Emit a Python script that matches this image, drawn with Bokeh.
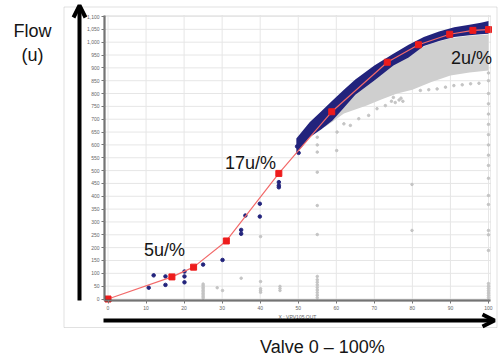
from bokeh.plotting import figure
from bokeh.models import (Label, Arrow, OpenHead, PolyAnnotation, NumeralTickFormatter,
                          FixedTicker, LinearAxis, Range1d)
from bokeh.embed import file_html
from bokeh.resources import INLINE

# ---------------- data ----------------
red_x = [0, 16.8, 22.5, 31.1, 44.9, 58.8, 73.4, 81.6, 89.8, 95.9, 100]
red_y = [0, 86, 124, 226, 489, 729, 922, 990, 1031, 1046, 1049]

blue_x = [10.7, 12.0, 15.1, 15.1, 20.1, 20.1, 20.1, 25.0, 30.1, 35.0, 35.0,
          36.1, 39.9, 39.9, 44.9, 44.9, 44.9, 49.7, 50.1]
blue_y = [44, 92, 88, 55, 107, 88, 65, 134, 152, 269, 254,
          325, 371, 321, 455, 442, 435, 594, 569]

band_x = [49.5, 53, 56, 59, 62, 65, 70, 75, 79, 83, 87, 91, 95, 98, 100]
band_upper = [625, 688, 730, 773, 815, 855, 909, 955, 990, 1020, 1042, 1058, 1068, 1076, 1082]
band_lower = [566, 630, 660, 695, 745, 795, 851, 909, 940, 985, 1005, 1020, 1027, 1031, 1033]

cloud_x = [56, 59, 62, 65, 68, 72, 76, 80, 85, 90, 95, 100]
cloud_upper = [660, 700, 760, 800, 840, 890, 935, 965, 995, 1015, 1025, 1030]
cloud_lower = [660, 690, 722, 738, 753, 778, 800, 815, 845, 870, 882, 890]

gray_x = ([25] * 10 + [28.7, 30.1, 35, 40.1, 40.1, 40.1, 40.1, 40.1, 45.2, 45.2, 45.2]
          + [55] * 15
          + [60.1, 60.2, 62, 63.7, 65.9, 68.5, 70.7, 72.9]
          + [82.1, 84.3, 86.5, 88.7, 90.9, 93.1, 95.3, 97.5]
          + [79.9, 79.9]
          + [74.5, 75.5, 76.5, 77.5, 75, 77]
          + [100] * 23)
gray_y = ([4, 10, 16, 22, 28, 34, 40, 46, 52, 58]
          + [44, 33, 81, 243, 68, 40, 33, 26, 49, 41, 33]
          + [630, 600, 572, 494, 364, 251, 88, 75, 5, 15, 25, 35, 45, 55, 65]
          + [578, 650, 682, 676, 702, 715, 741, 753]
          + [812, 815, 818, 825, 831, 834, 838, 840]
          + [446, 267]
          + [770, 765, 775, 770, 785, 782]
          + [880, 850, 800, 760, 720, 680, 640, 600, 560, 520, 470, 403, 368, 267, 250, 189,
             5, 14, 23, 32, 41, 50, 60])

x_ticks = list(range(0, 101, 10))
y_ticks = list(range(0, 1101, 50))

# ---------------- geometry ----------------
W, H = 498, 356                        # canvas
L, R, T, B = 104.0, 490.0, 15.0, 300.0  # inner plot box (canvas px)
X0, X1 = -0.92, 100.53                 # data at inner box edges
Y0, Y1 = -5.84, 1103.9

sx = (R - L) / (X1 - X0)
sy = (B - T) / (Y1 - Y0)
vx = Range1d(start=X0 - L / sx, end=X0 - L / sx + W / sx)
vy = Range1d(start=Y0 - (H - B) / sy, end=Y0 - (H - B) / sy + H / sy)

# the frame covers the whole canvas; default ranges are canvas pixels (y downwards)
p = figure(width=W, height=H, x_range=Range1d(0, W), y_range=Range1d(H, 0),
           output_backend="svg", toolbar_location=None,
           x_axis_location=None, y_axis_location=None, min_border=0)
p.extra_x_ranges = {"vx": vx}
p.extra_y_ranges = {"vy": vy}
p.xgrid.visible = False
p.ygrid.visible = False
p.outline_line_color = None
p.background_fill_color = "white"
p.border_fill_color = "white"

D = dict(x_range_name="vx", y_range_name="vy")

# grid lines at the tick values
p.segment(x0=x_ticks, x1=x_ticks, y0=Y0, y1=Y1, line_color="#e6e6e6", line_width=1, **D)
p.segment(x0=X0, x1=X1, y0=y_ticks, y1=y_ticks, line_color="#e6e6e6", line_width=1, **D)

# inner box edges
p.add_layout(PolyAnnotation(xs=[L, R, R, L], ys=[T, T, B, B], fill_color=None,
                            line_color="#bdbdbd", line_width=1))

# axes
xa = LinearAxis(x_range_name="vx", y_range_name="vy", fixed_location=Y0, bounds=(X0, X1),
                ticker=FixedTicker(ticks=x_ticks), axis_label="X : VPV105.OUT")
ya = LinearAxis(x_range_name="vx", y_range_name="vy", fixed_location=X0, bounds=(Y0, Y1),
                ticker=FixedTicker(ticks=y_ticks), formatter=NumeralTickFormatter(format="0,0"))
for ax in (xa, ya):
    ax.axis_line_color = "#555555"
    ax.axis_line_width = 2
    ax.major_tick_line_color = "#777777"
    ax.major_tick_out = 3
    ax.major_tick_in = 0
    ax.minor_tick_line_color = None
    ax.major_label_text_font_size = "5px"
    ax.major_label_text_color = "#666666"
    ax.major_label_text_font = "Liberation Sans"
    ax.major_label_standoff = 2
xa.axis_label_text_font_size = "5px"
xa.axis_label_text_font_style = "normal"
xa.axis_label_text_color = "#666666"
xa.axis_label_text_font = "Liberation Sans"
xa.axis_label_standoff = 1
p.add_layout(xa, "below")
p.add_layout(ya, "left")

# gray cloud and points
p.varea(x=cloud_x, y1=cloud_lower, y2=cloud_upper, fill_color="#cfcfcf", **D)
p.scatter(gray_x, gray_y, size=2.5, color="#c4c4c4", **D)
# dark blue band and points
p.varea(x=band_x, y1=band_lower, y2=band_upper, fill_color="#22237c", **D)
p.scatter(blue_x, blue_y, size=3.5, color="#22237c", **D)
# red fit line
p.line(red_x, red_y, line_color="#f26a6a", line_width=1.2, **D)
p.scatter(red_x, red_y, marker="square", size=6, color="#ee1c1c", **D)

# ---------------- annotations (canvas px) ----------------
def lab(text, cx, cy, size="18px"):
    p.add_layout(Label(x=cx, y=cy, text=text, text_font="Liberation Sans",
                       text_font_size=size, text_color="#151515", text_align="center",
                       text_baseline="middle"))

lab("5u/%", 164, 249.5)
lab("17u/%", 250, 162.5)
lab("2u/%", 471, 57)
lab("Flow", 32, 30)
lab("(u)", 32, 54)
lab("Valve 0 \u2013 100%", 322, 346)

# outer box
p.add_layout(PolyAnnotation(xs=[63.5, 496.5, 496.5, 63.5], ys=[6.5, 6.5, 327, 327],
                            fill_color=None, line_color="#9a9a9a", line_width=1))

# big arrows
p.add_layout(Arrow(x_start=79, y_start=300, x_end=79, y_end=5,
                   line_color="black", line_width=4,
                   end=OpenHead(size=12, line_width=4, line_color="black")))
p.add_layout(Arrow(x_start=103, y_start=320, x_end=494, y_end=320,
                   line_color="black", line_width=4,
                   end=OpenHead(size=12, line_width=4, line_color="black")))

open("out.html", "w").write(file_html(p, INLINE))
